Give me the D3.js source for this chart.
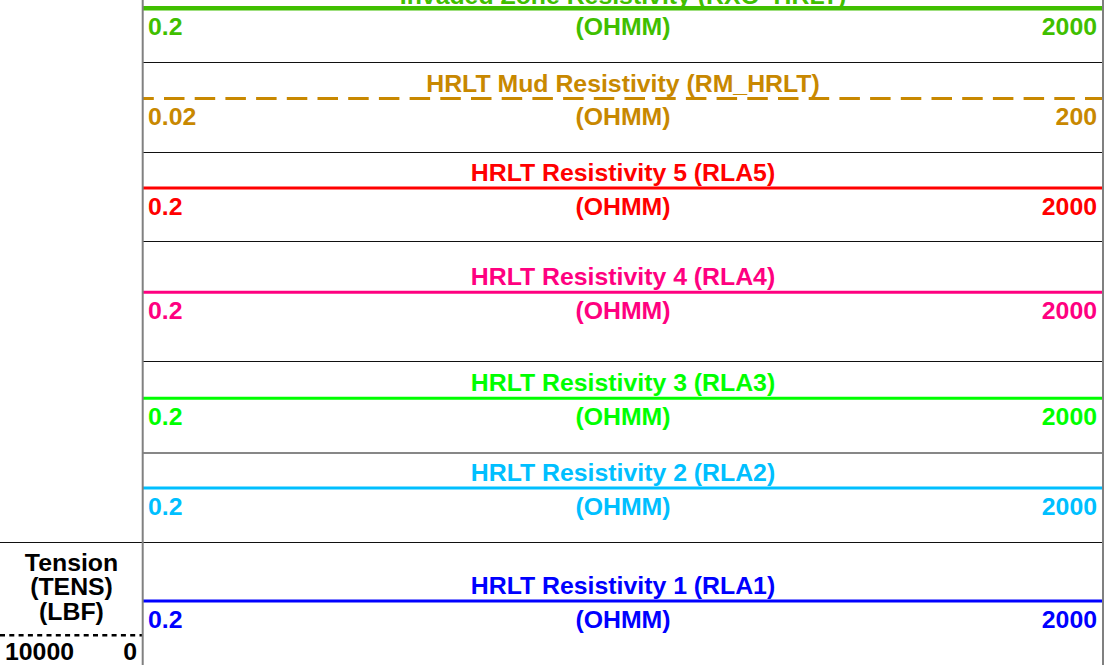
<!DOCTYPE html>
<html>
<head>
<meta charset="utf-8">
<script src="https://cdn.jsdelivr.net/npm/d3@7"></script>
<style>
  html, body { margin: 0; padding: 0; background: #fff; }
  svg { display: block; }
  text { font-family: "Liberation Sans", Arial, sans-serif; font-weight: bold; }
</style>
</head>
<body>
<svg id="chart" width="1110" height="665"></svg>
<script>
// ---- data ----
const curveTitles = [
  "Invaded Zone Resistivity (RXO_HRLT)",
  "HRLT Mud Resistivity (RM_HRLT)",
  "HRLT Resistivity 5 (RLA5)",
  "HRLT Resistivity 4 (RLA4)",
  "HRLT Resistivity 3 (RLA3)",
  "HRLT Resistivity 2 (RLA2)",
  "HRLT Resistivity 1 (RLA1)"
];
const curveUnits = ["(OHMM)", "(OHMM)", "(OHMM)", "(OHMM)", "(OHMM)", "(OHMM)", "(OHMM)"];
const scaleLeft = [0.2, 0.02, 0.2, 0.2, 0.2, 0.2, 0.2];
const scaleRight = [2000, 200, 2000, 2000, 2000, 2000, 2000];
const scaleLeftLabels = ["0.2", "0.02", "0.2", "0.2", "0.2", "0.2", "0.2"];
const scaleRightLabels = ["2000", "200", "2000", "2000", "2000", "2000", "2000"];
const curveColors = ["#40bf00", "#c88800", "#ff0000", "#ff0080", "#00ff00", "#00bfff", "#0000ff"];
const curveDashed = [false, true, false, false, false, false, false];

const tensionTitle = ["Tension", "(TENS)", "(LBF)"];
const tensionLeft = 10000;
const tensionRight = 0;
const tensionLeftLabel = "10000";
const tensionRightLabel = "0";

// ---- layout (positions, not data) ----
const W = 1110, H = 665;
const trackX0 = 143, trackX1 = 1103;
const lineYs = [8.3, 98.5, 188, 292.3, 398.3, 488, 601];
const lineWidths = [4.5, 3, 3, 3, 3, 3, 3];
const separatorYs = [62.5, 152.5, 241.5, 361.5, 453, 542.5];
const FS = 23, SX = 1.08;

const svg = d3.select("#chart");

function label(x, y, txt, anchor, color) {
  return svg.append("text")
    .attr("transform", `translate(${x},${y}) scale(${SX},1)`)
    .attr("text-anchor", anchor)
    .attr("font-size", FS)
    .attr("fill", color)
    .text(txt);
}

// separators
svg.selectAll("line.sep").data(separatorYs).enter().append("line")
  .attr("class", "sep")
  .attr("x1", (d, i) => i === separatorYs.length - 1 ? 0 : trackX0)
  .attr("x2", trackX1)
  .attr("y1", d => d).attr("y2", d => d)
  .attr("stroke", "#111").attr("stroke-width", 1.2);

// curves
curveTitles.forEach((t, i) => {
  const x = d3.scaleLog().domain([scaleLeft[i], scaleRight[i]]).range([trackX0, trackX1]);
  const y = lineYs[i];
  const c = curveColors[i];
  const ln = svg.append("line")
    .attr("x1", x(scaleLeft[i])).attr("x2", x(scaleRight[i]))
    .attr("y1", y).attr("y2", y)
    .attr("stroke", c).attr("stroke-width", lineWidths[i]);
  if (curveDashed[i]) ln.attr("stroke-dasharray", "20.5,10.2").attr("stroke-dashoffset", 9.7);
  const mid = (x(scaleLeft[i]) + x(scaleRight[i])) / 2;
  const tOff = i === 0 ? 4 : 7;
  label(mid, y - tOff, t, "middle", c);
  label(mid, y + 26.5, curveUnits[i], "middle", c);
  label(x(scaleLeft[i]) + 5, y + 26.5, scaleLeftLabels[i], "start", c);
  label(x(scaleRight[i]) - 6, y + 26.5, scaleRightLabels[i], "end", c);
});

// tension track
const tx = d3.scaleLinear().domain([tensionLeft, tensionRight]).range([0, trackX0]);
const tMid = (tx(tensionLeft) + tx(tensionRight)) / 2;
const tBase = [571, 595, 620];
tensionTitle.forEach((t, i) => label(tMid, tBase[i], t, "middle", "#000"));
svg.append("line")
  .attr("x1", tx(tensionLeft)).attr("x2", tx(tensionRight))
  .attr("y1", 635.3).attr("y2", 635.3)
  .attr("stroke", "#000").attr("stroke-width", 2.5)
  .attr("stroke-dasharray", "5,4.3");
label(tx(tensionLeft) + 5, 660, tensionLeftLabel, "start", "#000");
label(tx(tensionRight) - 6, 660, tensionRightLabel, "end", "#000");

// vertical borders
[trackX0 - 0.3, trackX1].forEach(xv => {
  svg.append("line").attr("x1", xv).attr("x2", xv).attr("y1", 0).attr("y2", H)
    .attr("stroke", "#808080").attr("stroke-width", 2);
});
</script>
</body>
</html>
